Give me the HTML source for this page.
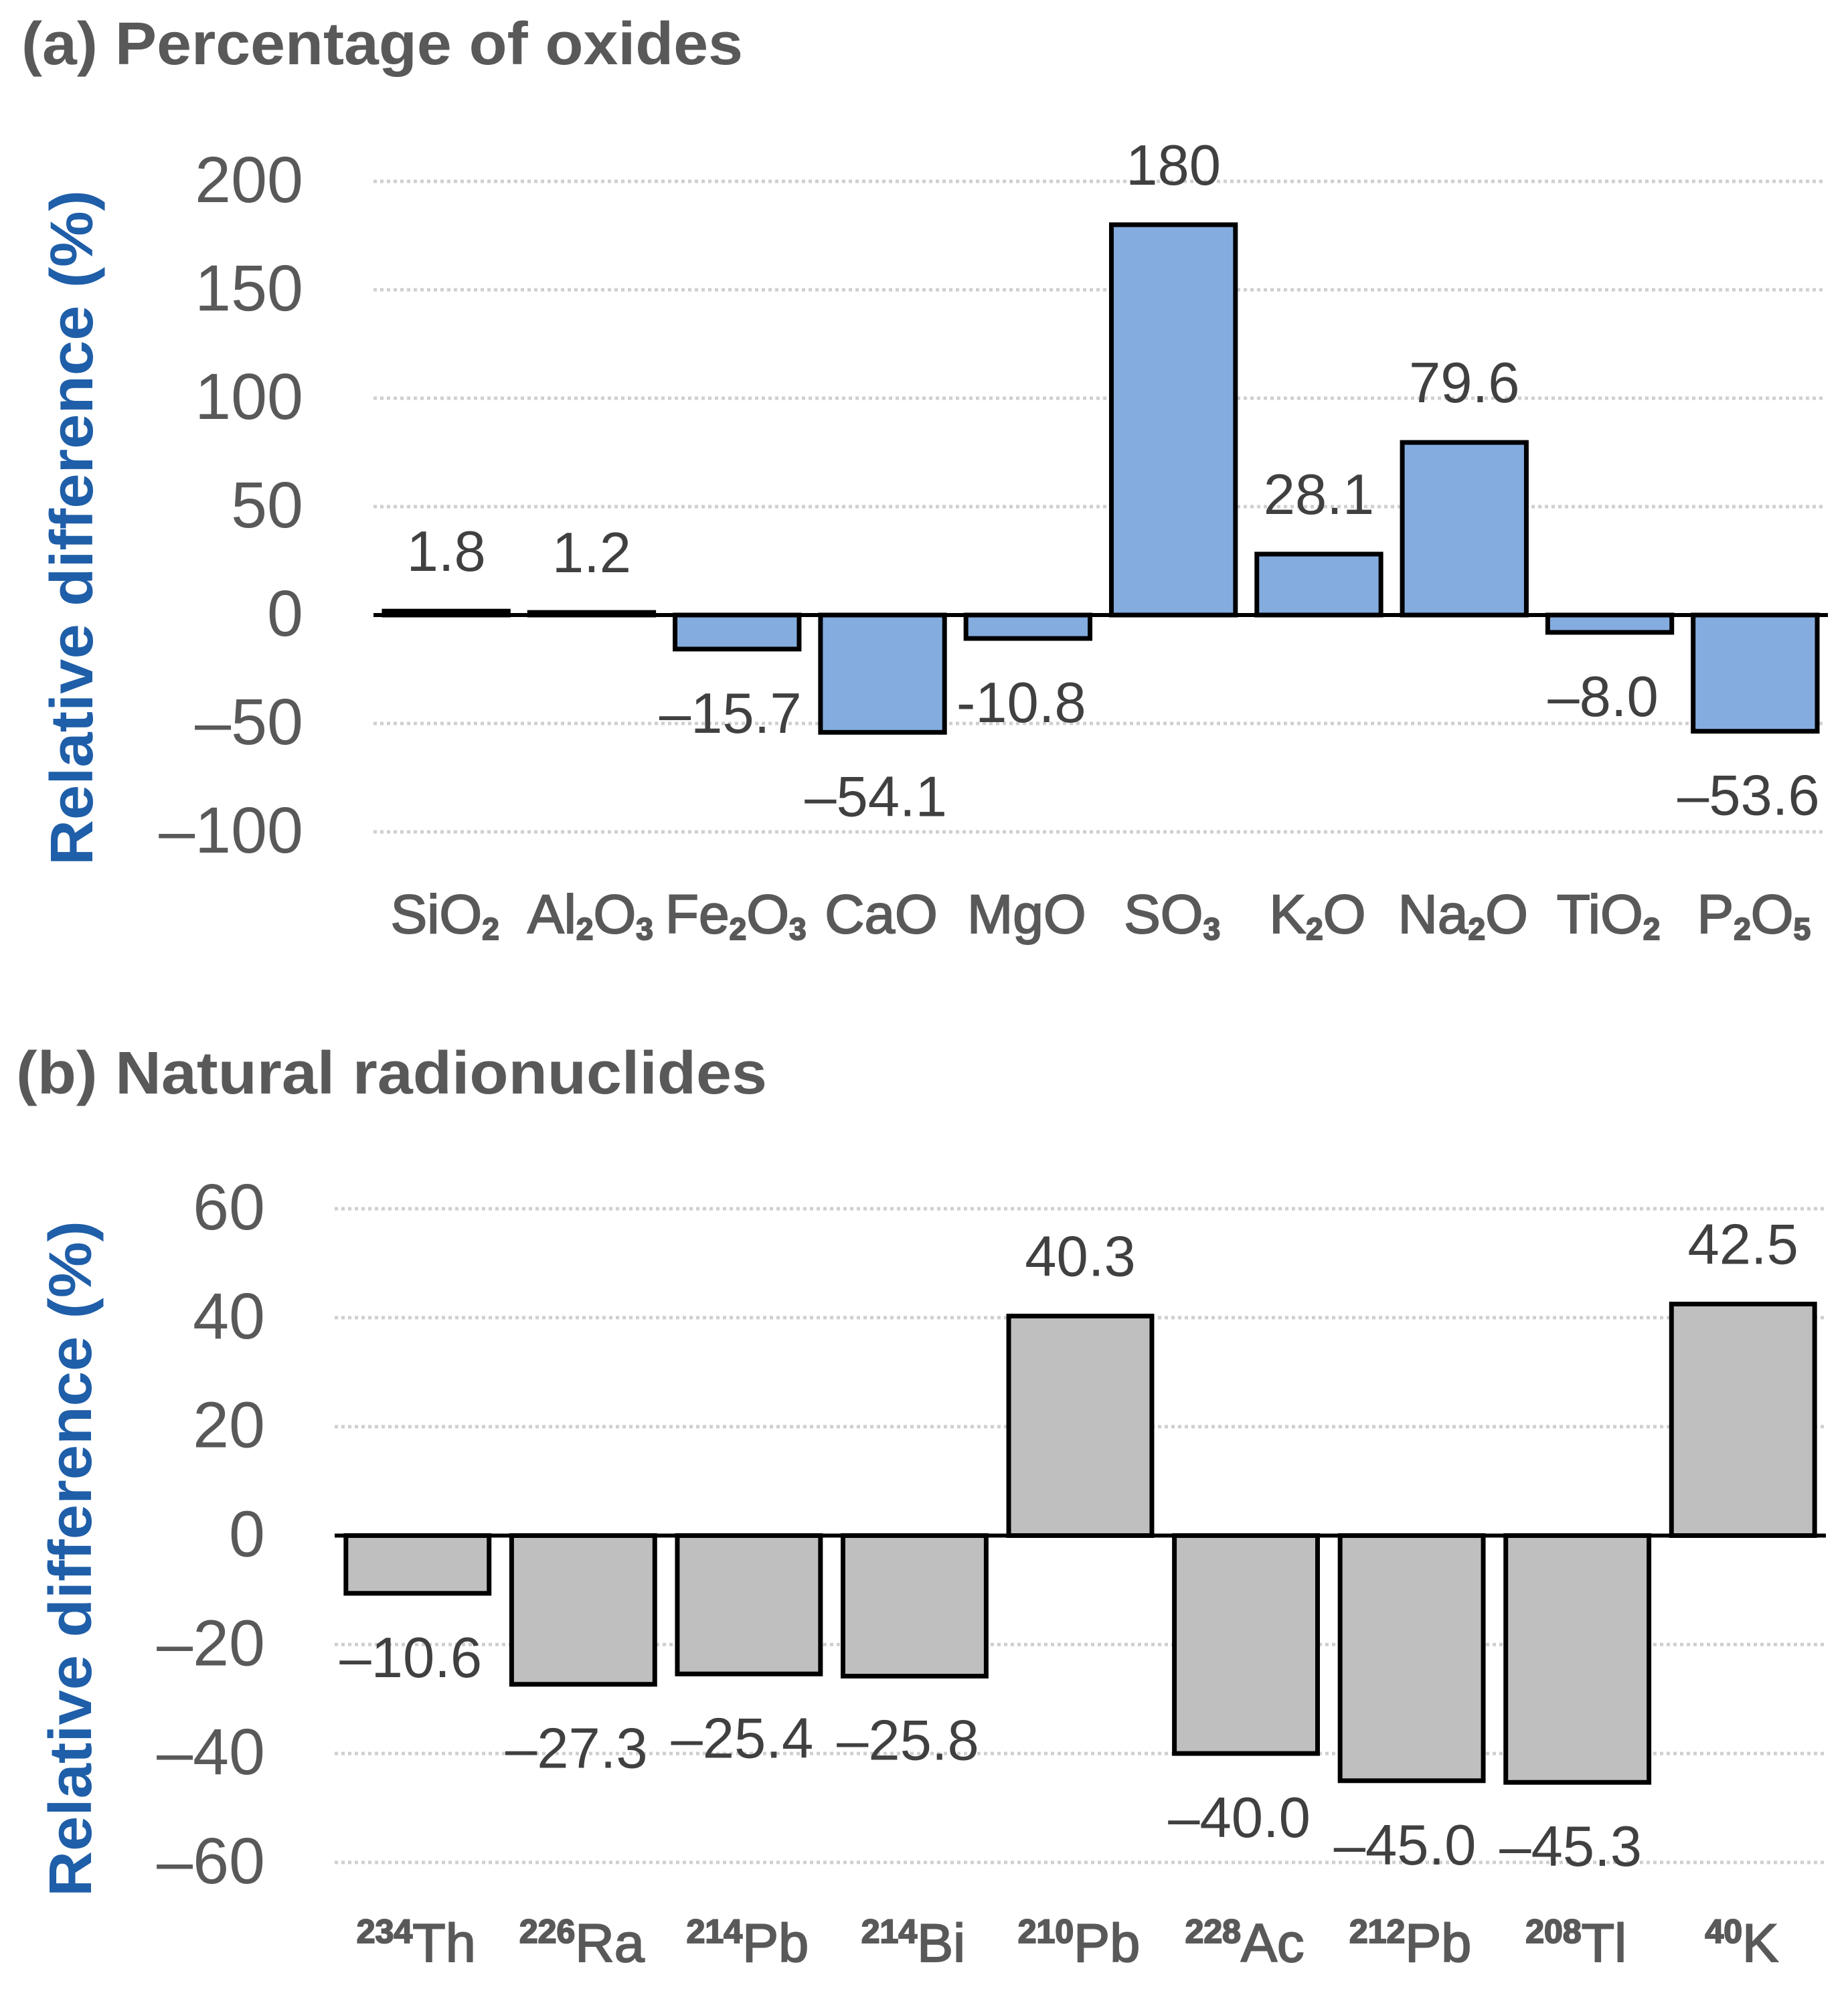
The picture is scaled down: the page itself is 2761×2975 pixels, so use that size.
<!DOCTYPE html>
<html lang="en">
<head>
<meta charset="utf-8">
<title>Relative differences of oxides and natural radionuclides</title>
<style>
  html, body { margin: 0; padding: 0; background: #fff; }
  svg { display: block; }
  text { font-family: "Liberation Sans", "DejaVu Sans", sans-serif; }
</style>
</head>
<body>
<svg id="figure" xmlns="http://www.w3.org/2000/svg" width="2761" height="2975" viewBox="0 0 2761 2975">
  <rect width="2761" height="2975" fill="#ffffff"/>
  <text x="32" y="96" font-size="90" font-weight="700" fill="#595959" textLength="1078" lengthAdjust="spacingAndGlyphs">(a) Percentage of oxides</text>
  <text x="24" y="1634" font-size="90" font-weight="700" fill="#595959" textLength="1122" lengthAdjust="spacingAndGlyphs">(b) Natural radionuclides</text>
  <text transform="translate(138 1293) rotate(-90)" font-size="90" font-weight="700" fill="#1f5ea8" textLength="1009" lengthAdjust="spacingAndGlyphs">Relative difference (%)</text>
  <text transform="translate(136 2834) rotate(-90)" font-size="90" font-weight="700" fill="#1f5ea8" textLength="1010" lengthAdjust="spacingAndGlyphs">Relative difference (%)</text>
  <g id="panel-a"></g>
  <g id="panel-b"></g>
</svg>
<script>
const oxideCategories = ['SiO2', 'Al2O3', 'Fe2O3', 'CaO', 'MgO', 'SO3', 'K2O', 'Na2O', 'TiO2', 'P2O5'];
const oxideValues = [1.8, 1.2, -15.7, -54.1, -10.8, 180, 28.1, 79.6, -8.0, -53.6];
const oxideValueLabels = ['1.8', '1.2', '–15.7', '–54.1', '-10.8', '180', '28.1', '79.6', '–8.0', '–53.6'];
const oxideTicks = [200, 150, 100, 50, 0, -50, -100];

const nuclideCategories = ['234Th', '226Ra', '214Pb', '214Bi', '210Pb', '228Ac', '212Pb', '208Tl', '40K'];
const nuclideValues = [-10.6, -27.3, -25.4, -25.8, 40.3, -40.0, -45.0, -45.3, 42.5];
const nuclideValueLabels = ['–10.6', '–27.3', '–25.4', '–25.8', '40.3', '–40.0', '–45.0', '–45.3', '42.5'];
const nuclideTicks = [60, 40, 20, 0, -20, -40, -60];

const SVG_NS = 'http://www.w3.org/2000/svg';

function make(tag, parent, attrs) {
  const node = document.createElementNS(SVG_NS, tag);
  Object.keys(attrs).forEach(function (key) { node.setAttribute(key, attrs[key]); });
  parent.appendChild(node);
  return node;
}

function drawPanel(cfg) {
  const root = document.getElementById(cfg.id);
  const band = (cfg.right - cfg.left) / cfg.categories.length;
  const xCenter = function (i) { return cfg.left + (i + 0.5) * band; };
  const yScale = function (v) { return cfg.zeroY - v * cfg.pxPerUnit; };

  cfg.ticks.forEach(function (tick) {
    if (tick !== 0) {
      const grid = make('line', root, {
        x1: cfg.left, x2: cfg.gridRight, y1: yScale(tick), y2: yScale(tick),
        stroke: '#cfcfcf', 'stroke-width': 5, 'stroke-dasharray': '5 5'
      });
      
      
    }
    const tickLabel = make('text', root, {
      x: cfg.tickRight, y: yScale(tick) + 31, 'text-anchor': 'end',
      'font-size': 97, fill: '#595959'
    });
    
    
    tickLabel.textContent = String(tick).replace('-', '–');
  });

  cfg.values.forEach(function (value, i) {
    const top = yScale(Math.max(value, 0));
    const bottom = yScale(Math.min(value, 0));
    const barWidth = band * cfg.barRatio;
    const bar = make('rect', root, {
      x: xCenter(i) - barWidth / 2, y: top, width: barWidth, height: bottom - top,
      fill: cfg.fill, stroke: '#000000', 'stroke-width': 7
    });
    
    
  });

  const axis = make('line', root, {
    x1: cfg.left, x2: cfg.right, y1: cfg.zeroY, y2: cfg.zeroY,
    stroke: '#000000', 'stroke-width': 6
  });
  
  

  cfg.values.forEach(function (value, i) {
    const isNegative = value < 0;
    const valueLabel = make('text', root, {
      x: xCenter(i) + (isNegative ? -10 : 0),
      y: yScale(value) + (isNegative ? 125 : -60),
      'text-anchor': 'middle', 'font-size': 85, fill: '#404040'
    });
    
    
    valueLabel.textContent = cfg.valueLabels[i];
  });

  cfg.categories.forEach(function (category, i) {
    const label = make('text', root, {
      x: xCenter(i) - 2, y: cfg.categoryY, 'text-anchor': 'middle',
      'font-size': cfg.categoryFont, fill: '#595959', stroke: '#595959', 'stroke-width': 2
    });
    
    
    category.split(/(\d+)/).forEach(function (part) {
      if (!part) { return; }
      const isDigits = /^\d+$/.test(part);
      const span = make('tspan', label, {});
      if (isDigits) {
        span.setAttribute('font-size', cfg.scriptFont);
        span.setAttribute('font-weight', '700');
        span.setAttribute('baseline-shift', cfg.scriptShift);
      }
      span.textContent = part;
    });
  });
}

drawPanel({
  id: 'panel-a', categories: oxideCategories, values: oxideValues, valueLabels: oxideValueLabels,
  ticks: oxideTicks, left: 558, right: 2731, gridRight: 2728, zeroY: 919, pxPerUnit: 3.24,
  tickRight: 453, barRatio: 0.853, fill: '#84acdf', categoryY: 1394,
  categoryFont: 82, scriptFont: 46, scriptShift: '-10'
});

drawPanel({
  id: 'panel-b', categories: nuclideCategories, values: nuclideValues, valueLabels: nuclideValueLabels,
  ticks: nuclideTicks, left: 500, right: 2728, gridRight: 2728, zeroY: 2294.5, pxPerUnit: 8.14,
  tickRight: 396, barRatio: 0.864, fill: '#bfbfbf', categoryY: 2931,
  categoryFont: 81, scriptFont: 50, scriptShift: '28'
});
</script>
</body>
</html>
